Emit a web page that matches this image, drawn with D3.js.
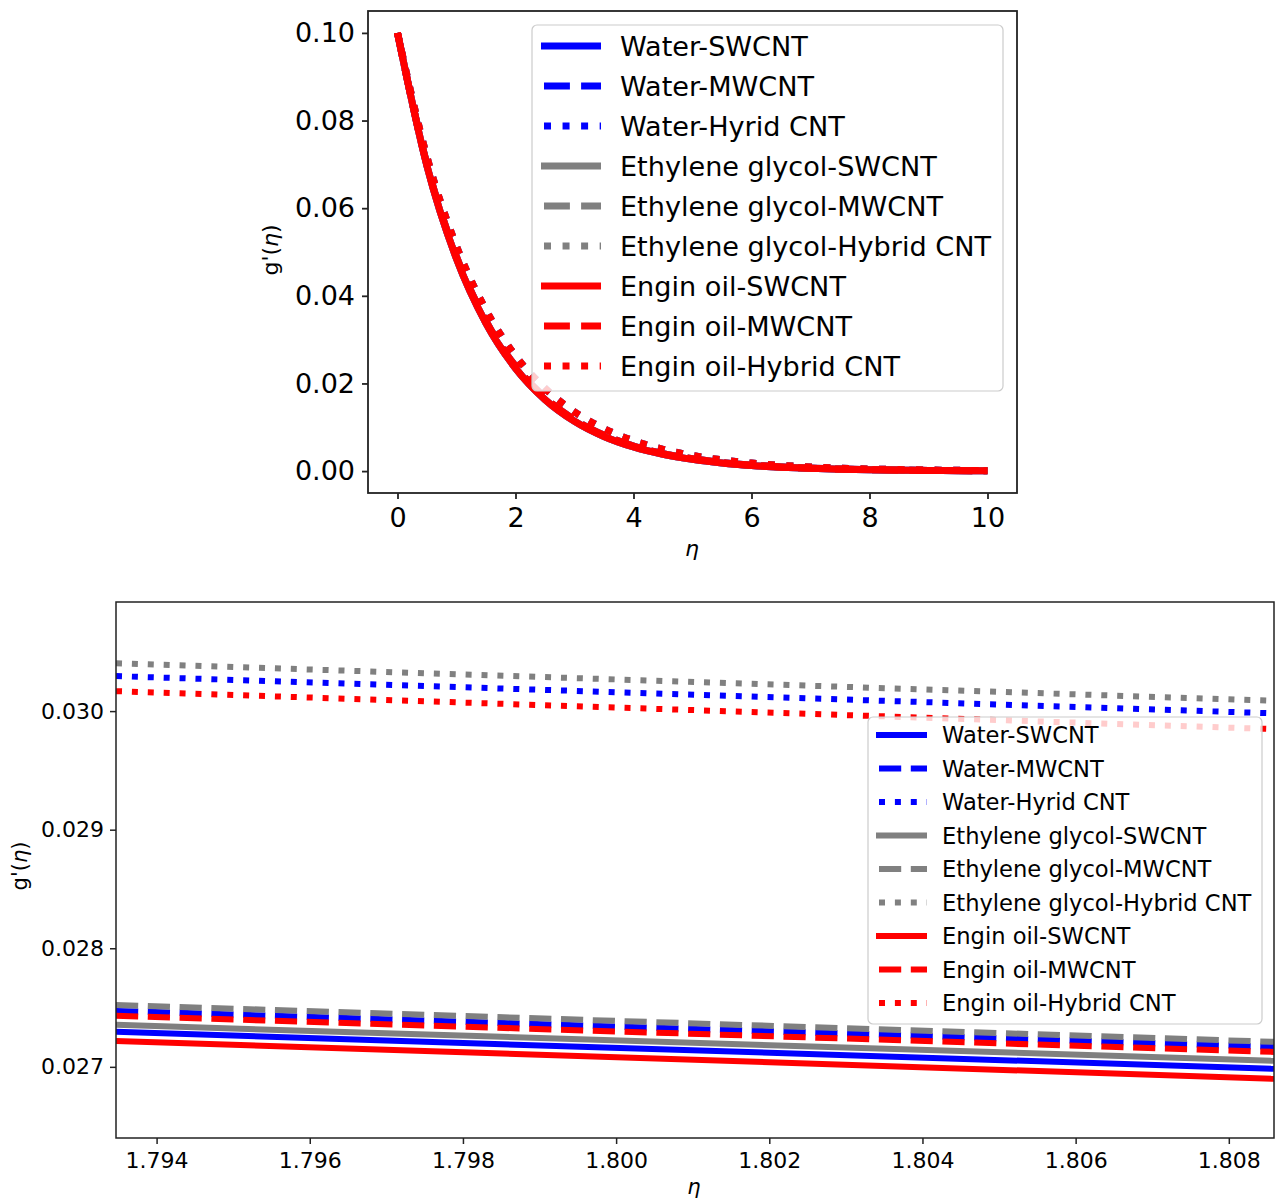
<!DOCTYPE html>
<html><head><meta charset="utf-8">
<script src="https://cdn.jsdelivr.net/npm/d3@7"></script>
<style>
body{margin:0;background:#fff}
svg{display:block}
text{font-family:"DejaVu Sans",sans-serif;fill:#000}
</style>
</head><body>
<svg id="c" width="1275" height="1198"></svg>
<script>
// ---------- DATA ----------
const seriesNames = ["Water-SWCNT","Water-MWCNT","Water-Hyrid CNT",
  "Ethylene glycol-SWCNT","Ethylene glycol-MWCNT","Ethylene glycol-Hybrid CNT",
  "Engin oil-SWCNT","Engin oil-MWCNT","Engin oil-Hybrid CNT"];
const seriesColors = ["#0000ff","#0000ff","#0000ff","#808080","#808080","#808080","#ff0000","#ff0000","#ff0000"];
const seriesStyles = ["solid","dashed","dotted","solid","dashed","dotted","solid","dashed","dotted"];

// top panel: eta from 0 to 10
const topEta = [0,0.5,1,1.5,2,2.5,3,3.5,4,4.5,5,5.5,6,6.5,7,7.5,8,8.5,9,9.5,10];
const topSW = [0.1,0.0696,0.04844,0.03372,0.02347,0.01633,0.01137,0.00791,0.00551,0.00383,0.00267,0.00186,0.00129,0.0009,0.00063,0.00044,0.0003,0.00021,0.00015,0.0001,0.00007];
const topMW = [0.1,0.06994,0.04892,0.03421,0.02393,0.01674,0.0117,0.00819,0.00572,0.004,0.0028,0.00196,0.00137,0.00096,0.00067,0.00047,0.00033,0.00023,0.00016,0.00011,0.00008];
const topHY = [0.1,0.07164,0.05132,0.03677,0.02634,0.01887,0.01352,0.00969,0.00694,0.00497,0.00356,0.00255,0.00183,0.00131,0.00094,0.00067,0.00048,0.00035,0.00025,0.00018,0.00013];
const topSeries = [topSW, topMW, topHY, topSW, topMW, topHY, topSW, topMW, topHY];

// bottom panel (zoom near eta = 1.8)
const bottomEta = [1.79347, 1.80859];
const waterSW = [0.027295, 0.026983];
const waterMW = [0.027472, 0.027168];
const waterHY = [0.030295, 0.029981];
const egSW = [0.027354, 0.027051];
const egMW = [0.027522, 0.027211];
const egHY = [0.030404, 0.030087];
const eoSW = [0.027219, 0.026899];
const eoMW = [0.027430, 0.027126];
const eoHY = [0.030168, 0.029848];
const bottomSeries = [waterSW, waterMW, waterHY, egSW, egMW, egHY, eoSW, eoMW, eoHY];

const topXTicks = [0,2,4,6,8,10];
const topYTicks = [0,0.02,0.04,0.06,0.08,0.10];
const bottomXTicks = [1.794,1.796,1.798,1.800,1.802,1.804,1.806,1.808];
const bottomYTicks = [0.027,0.028,0.029,0.030];

// ---------- DRAW ----------
const svg = d3.select("#c");

function dashFor(style, lw){
  if(style==="dashed") return (3.7*lw)+","+(1.6*lw);
  if(style==="dotted") return (1*lw)+","+(1.65*lw);
  return null;
}

function panel(cfg, id){
  const x = d3.scaleLinear().domain(cfg.xDomain).range([cfg.left, cfg.right]);
  const y = d3.scaleLinear().domain(cfg.yDomain).range([cfg.bottom, cfg.top]);
  const g = svg.append("g");
  g.append("clipPath").attr("id","clip"+id).append("rect")
    .attr("x",cfg.left).attr("y",cfg.top).attr("width",cfg.right-cfg.left).attr("height",cfg.bottom-cfg.top);
  const lines = g.append("g").attr("clip-path","url(#clip"+id+")");
  cfg.series.forEach((vals,i)=>{
    const pts = cfg.xs.map((xv,j)=>[xv, vals[j]]);
    const line = d3.line().x(d=>x(d[0])).y(d=>y(d[1])).curve(d3.curveMonotoneX);
    lines.append("path").attr("d",line(pts)).attr("fill","none")
      .attr("stroke",seriesColors[i]).attr("stroke-width",cfg.lw)
      .attr("stroke-dasharray",dashFor(seriesStyles[i],cfg.lw))
      .attr("stroke-linecap","butt").attr("stroke-linejoin","round");
  });
  // axes
  const xa = g.append("g").attr("transform","translate(0,"+cfg.bottom+")")
    .call(d3.axisBottom(x).tickValues(cfg.xTicks).tickFormat(d3.format(cfg.xFmt)).tickSize(6).tickPadding(cfg.xPad).tickSizeOuter(0));
  const ya = g.append("g").attr("transform","translate("+cfg.left+",0)")
    .call(d3.axisLeft(y).tickValues(cfg.yTicks).tickFormat(d3.format(cfg.yFmt)).tickSize(6).tickPadding(cfg.yPad).tickSizeOuter(0));
  [xa,ya].forEach(a=>{
    a.select(".domain").remove();
    a.selectAll("line").attr("stroke","#222").attr("stroke-width",cfg.sw);
    a.selectAll("text").style("font-family","DejaVu Sans").style("font-size",cfg.tickFont+"px").attr("fill","#000");
  });
  g.append("rect").attr("x",cfg.left).attr("y",cfg.top).attr("width",cfg.right-cfg.left).attr("height",cfg.bottom-cfg.top)
    .attr("fill","none").attr("stroke","#222").attr("stroke-width",cfg.sw);
  // labels
  g.append("text").attr("x",cfg.xLabel[0]).attr("y",cfg.xLabel[1]).attr("text-anchor","middle")
    .style("font-size",cfg.labelFont+"px").style("font-style","italic").text("η");
  const yl = g.append("text").attr("transform","translate("+cfg.yLabel[0]+","+cfg.yLabel[1]+") rotate(-90)")
    .attr("text-anchor","middle").style("font-size",cfg.labelFont+"px");
  yl.append("tspan").text("g'(");
  yl.append("tspan").style("font-style","italic").text("η");
  yl.append("tspan").text(")");
  // legend
  const L = cfg.legend;
  const lg = g.append("g");
  lg.append("rect").attr("x",L.x).attr("y",L.y).attr("width",L.w).attr("height",L.h).attr("rx",5)
    .attr("fill","#fff").attr("fill-opacity",0.8).attr("stroke","#cccccc").attr("stroke-width",1.2);
  seriesNames.forEach((nm,i)=>{
    const yy = L.row0 + i*L.step;
    lg.append("line").attr("x1",L.hx0).attr("x2",L.hx1).attr("y1",yy).attr("y2",yy)
      .attr("stroke",seriesColors[i]).attr("stroke-width",cfg.lw)
      .attr("stroke-dasharray",dashFor(seriesStyles[i],cfg.lw))
      .attr("stroke-dashoffset",seriesStyles[i]==="solid"?0:-3);
    lg.append("text").attr("x",L.tx).attr("y",yy).attr("dy","0.36em")
      .style("font-size",L.font+"px").text(nm);
  });
}

panel({
  left:368, right:1017, top:11, bottom:493,
  xDomain:[-0.5,10.5], yDomain:[-0.005,0.105],
  xs:topEta, series:topSeries, lw:7, sw:1.8,
  xTicks:topXTicks, yTicks:topYTicks, xFmt:"d", yFmt:".2f",
  xPad:9, yPad:7, tickFont:27, labelFont:22,
  xLabel:[692,556], yLabel:[278,250],
  legend:{x:532,y:25,w:471,h:366,row0:46,step:40,hx0:541,hx1:601,tx:620,font:27.1}
},"top");

panel({
  left:116, right:1274, top:602, bottom:1138,
  xDomain:d3.extent(bottomEta), yDomain:[0.02640,0.03092],
  xs:bottomEta, series:bottomSeries, lw:6, sw:1.5,
  xTicks:bottomXTicks, yTicks:bottomYTicks, xFmt:".3f", yFmt:".3f",
  xPad:8, yPad:6, tickFont:22, labelFont:21,
  xLabel:[694,1194], yLabel:[27,866],
  legend:{x:868,y:717,w:394,h:307,row0:735,step:33.5,hx0:876,hx1:927,tx:942,font:22.6}
},"bot");
</script>
</body></html>
